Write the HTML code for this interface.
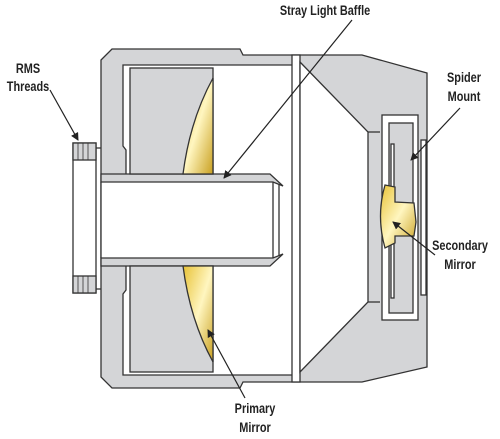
<!DOCTYPE html>
<html><head><meta charset="utf-8"><style>
html,body{margin:0;padding:0;background:#fff}
svg{display:block}
text{font-family:"Liberation Sans",sans-serif;font-size:14px;font-weight:bold;fill:#222;text-anchor:middle}
</style></head><body>
<svg width="500" height="439" viewBox="0 0 500 439">
<defs>
<linearGradient id="gold" x1="0" y1="0" x2="1" y2="1">
<stop offset="0" stop-color="#e8c235"/><stop offset="0.5" stop-color="#fff6c0"/><stop offset="1" stop-color="#c9a020"/>
</linearGradient>
<marker id="ah" markerWidth="8" markerHeight="8" refX="7" refY="4" orient="auto" markerUnits="userSpaceOnUse"><path d="M0,0 L8,4 L0,8 Z" fill="#222"/></marker>
</defs>
<g stroke="#333" stroke-width="1.3" stroke-linejoin="miter">
<path d="M101,60 L112,49 L240,49 L243,55 L362,55 L427,73 L427,367 L362,382 L243,382 L240,388 L112,388 L101,377 Z" fill="#d4d5d7"/>
<path d="M123,65 L293,65 L293,375 L123,375 L123,294 L126,290 L126,150 L123,146 Z" fill="#fff"/>
<rect x="101" y="182" width="172" height="76" fill="#fff" stroke="none"/>
<path d="M101,174 L270,174 L283,186 L273,182 L101,182 Z" fill="#d4d5d7"/>
<path d="M101,266 L270,266 L283,254 L273,258 L101,258 Z" fill="#d4d5d7"/>
<line x1="101" y1="182" x2="101" y2="258"/>
<line x1="273" y1="182" x2="273" y2="258"/><line x1="279" y1="184" x2="279" y2="256"/>
<rect x="130" y="68" width="83" height="106" fill="#d4d5d7"/>
<path d="M213,78 Q190,120 183,174 L213,174 Z" fill="url(#gold)"/>
<rect x="130" y="266" width="83" height="106" fill="#d4d5d7"/>
<path d="M213,362 Q190,320 183,266 L213,266 Z" fill="url(#gold)"/>
<rect x="292" y="55" width="8" height="327" fill="#fff"/>
<path d="M300,62 L368,132 L368,302 L300,372 Z" fill="#fff"/>
<line x1="368" y1="132" x2="380" y2="132"/><line x1="368" y1="302" x2="380" y2="302"/>
<rect x="382" y="115" width="36" height="205" fill="#fff"/>
<rect x="389" y="123" width="24" height="190" fill="#d4d5d7"/>
<rect x="391" y="144" width="3" height="65" fill="#fff"/><rect x="391" y="230" width="3" height="68" fill="#fff"/>
<rect x="421" y="140" width="5" height="155" fill="#fff"/>
<path d="M385,185 L395,187 L395,202 L414,203 L416,222 L414,236 L395,236 L395,243 L385,248 Q376,216 385,185 Z" fill="url(#gold)"/>
<rect x="73" y="143" width="23" height="150" fill="#fff"/>
<rect x="73" y="143" width="23" height="17" fill="#d4d5d7"/><rect x="73" y="276" width="23" height="17" fill="#d4d5d7"/>
<g stroke-width="0.8"><line x1="78" y1="143" x2="78" y2="160"/><line x1="83" y1="143" x2="83" y2="160"/><line x1="88" y1="143" x2="88" y2="160"/><line x1="78" y1="276" x2="78" y2="293"/><line x1="83" y1="276" x2="83" y2="293"/><line x1="88" y1="276" x2="88" y2="293"/></g>
<line x1="96" y1="148" x2="101" y2="148"/><line x1="96" y1="289" x2="101" y2="289"/>
</g>
<g stroke="#222" stroke-width="1.2" marker-end="url(#ah)">
<line x1="352" y1="20" x2="224" y2="178"/>
<line x1="50" y1="90" x2="78" y2="140"/>
<line x1="460" y1="108" x2="411" y2="160"/>
<line x1="435" y1="255" x2="393" y2="222"/>
<line x1="245" y1="398" x2="208" y2="330"/>
</g>
<g transform="translate(325,15) scale(0.78,1)"><text>Stray Light Baffle</text></g>
<g transform="translate(28,73) scale(0.78,1)"><text>RMS</text></g>
<g transform="translate(28,91) scale(0.78,1)"><text>Threads</text></g>
<g transform="translate(464,82) scale(0.78,1)"><text>Spider</text></g>
<g transform="translate(464,101) scale(0.78,1)"><text>Mount</text></g>
<g transform="translate(460,250) scale(0.78,1)"><text>Secondary</text></g>
<g transform="translate(460,269) scale(0.78,1)"><text>Mirror</text></g>
<g transform="translate(255,413) scale(0.78,1)"><text>Primary</text></g>
<g transform="translate(255,432) scale(0.78,1)"><text>Mirror</text></g>
</svg>
</body></html>
